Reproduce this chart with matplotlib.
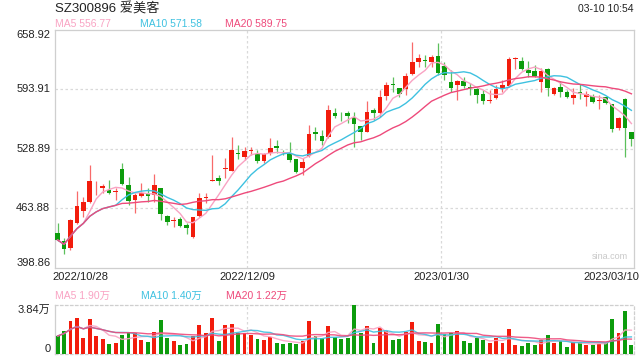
import matplotlib
matplotlib.use("Agg")
import matplotlib.pyplot as plt
import matplotlib.transforms as mtransforms
import numpy as np
import pandas as pd

plt.rcParams['font.family'] = ['Liberation Sans', 'Noto Sans CJK SC']

# ---------------- data ----------------
title = "SZ300896 爱美客"
timestamp = "03-10 10:54"

opens = [436.8, 428.7, 420.5, 447.7, 461.5, 471.0, 488.0, 486.0, 484.1, 481.9,
         506.7, 489.5, 473.2, 477.5, 479.4, 478.6, 485.9, 455.7, 449.9, 452.1,
         445.8, 433.1, 455.7, 475.7, 494.2, 496.9, 507.0, 505.2, 524.8, 520.5,
         526.4, 523.4, 516.1, 524.2, 532.2, 525.9, 524.8, 518.0, 508.5, 521.2,
         547.8, 543.1, 541.7, 568.5, 564.2, 567.9, 563.5, 554.0, 547.8, 571.5,
         568.5, 587.1, 599.9, 595.2, 594.1, 610.8, 623.6, 625.4, 623.6, 630.8,
         619.6, 602.4, 598.8, 603.2, 596.3, 594.4, 589.0, 581.3, 584.3, 594.1,
         597.7, 626.9, 625.0, 615.2, 614.1, 602.4, 616.0, 588.7, 596.3, 590.8,
         584.3, 590.8, 586.0, 586.8, 581.0, 585.2, 577.7, 552.2, 583.2, 547.8]
highs = [448.4, 431.3, 452.7, 483.3, 476.8, 511.4, 494.2, 490.3, 495.0, 485.9,
         513.9, 498.6, 480.5, 491.4, 485.9, 501.6, 486.3, 456.8, 454.9, 454.9,
         447.7, 454.9, 481.1, 481.1, 522.3, 500.5, 518.7, 542.3, 533.3, 530.7,
         530.7, 527.8, 524.2, 540.6, 538.7, 527.8, 536.9, 518.5, 518.7, 555.1,
         553.3, 549.6, 577.0, 573.4, 569.6, 570.7, 569.6, 554.5, 581.7, 573.4,
         593.4, 602.4, 607.9, 595.5, 611.6, 645.5, 632.7, 631.6, 631.6, 644.4,
         624.3, 615.2, 604.3, 607.9, 600.7, 597.0, 593.4, 593.4, 598.8, 604.3,
         629.7, 629.7, 629.7, 625.4, 620.7, 617.1, 617.7, 597.0, 603.5, 593.4,
         595.9, 599.9, 592.6, 589.0, 587.9, 585.4, 578.0, 564.2, 584.3, 548.0]
lows = [428.4, 413.8, 419.0, 446.9, 454.9, 469.5, 478.6, 480.5, 480.0, 473.2,
        489.5, 467.7, 458.6, 476.8, 471.3, 471.3, 451.3, 445.8, 443.3, 444.0,
        436.0, 431.3, 455.0, 469.5, 494.0, 489.5, 496.9, 505.0, 518.0, 516.9,
        522.3, 513.9, 513.9, 522.3, 524.2, 522.3, 515.0, 502.3, 500.5, 520.5,
        538.7, 533.3, 540.6, 562.4, 559.5, 557.0, 531.4, 538.7, 547.0, 560.6,
        564.2, 582.4, 591.5, 586.0, 587.9, 610.0, 618.8, 618.8, 618.2, 609.7,
        604.3, 591.5, 582.4, 595.2, 587.9, 578.8, 578.1, 578.8, 583.2, 591.5,
        597.0, 616.0, 615.2, 607.9, 607.9, 591.5, 586.8, 587.9, 585.4, 584.3,
        578.1, 583.2, 575.9, 579.5, 572.6, 578.1, 547.8, 549.6, 520.5, 532.2]
closes = [429.5, 419.9, 451.3, 466.6, 471.0, 494.2, 489.0, 488.5, 480.5, 482.7,
          490.6, 472.4, 478.6, 481.1, 477.5, 489.5, 457.9, 449.4, 450.5, 444.7,
          442.9, 454.3, 475.0, 476.4, 495.0, 494.2, 508.1, 527.8, 523.1, 526.7,
          526.7, 516.1, 523.4, 529.6, 530.0, 524.8, 516.9, 504.1, 515.0, 545.3,
          545.6, 537.9, 571.5, 564.9, 563.5, 565.3, 555.9, 547.8, 569.6, 568.5,
          585.4, 598.8, 599.1, 589.0, 608.7, 623.6, 628.0, 624.7, 629.7, 611.6,
          609.7, 595.2, 603.5, 598.0, 595.9, 587.9, 581.7, 582.1, 594.1, 598.8,
          627.2, 627.6, 616.3, 612.3, 608.7, 614.1, 595.2, 595.2, 590.8, 585.4,
          587.9, 588.7, 588.7, 580.6, 581.7, 579.4, 550.4, 562.4, 551.7, 539.5]
# volume in 万 shares
volumes = [1.41, 1.80, 2.59, 2.82, 1.25, 2.74, 1.41, 1.18, 0.78, 0.86,
           1.49, 1.70, 1.65, 1.10, 0.94, 1.72, 2.67, 1.25, 1.02, 0.71,
           0.78, 1.41, 2.27, 1.65, 2.82, 1.02, 2.27, 2.35, 1.65, 1.65,
           1.49, 1.18, 1.10, 1.33, 0.86, 0.78, 0.86, 0.78, 1.02, 2.59,
           1.41, 1.25, 2.20, 1.33, 1.18, 1.25, 3.84, 1.65, 2.20, 0.86,
           2.04, 1.80, 1.10, 1.18, 1.72, 2.51, 1.02, 0.94, 0.86, 2.35,
           1.57, 1.65, 1.80, 1.02, 0.86, 1.25, 1.10, 0.86, 1.25, 0.86,
           1.96, 0.71, 0.63, 0.86, 0.71, 1.10, 1.49, 0.86, 1.02, 0.55,
           0.94, 0.94, 0.71, 0.71, 0.78, 0.86, 2.74, 1.65, 3.37, 0.71]

date_labels = ["2022/10/28", "2022/12/09", "2023/01/30", "2023/03/10"]
date_label_idx = [0, 30, 60, 89]

price_ticks = [658.92, 593.91, 528.89, 463.88, 398.86]
vol_tick_labels = ["3.84万", "0"]
vol_tick_values = [3.84, 0.0]

ma_windows = [5, 10, 20]
ma_colors = ['#f9a3c3', '#3ec1e0', '#ee4a7b']
price_ma_text = ["MA5 556.77", "MA10 571.58", "MA20 589.75"]
vol_ma_text = ["MA5 1.90万", "MA10 1.40万", "MA20 1.22万"]

# ---------------- figure ----------------
W, H = 640, 360
fig = plt.figure(figsize=(W / 100, H / 100), dpi=100)
fig.patch.set_facecolor('white')


def rect(l, t, r, b):
    return [l / W, 1 - b / H, (r - l) / W, (b - t) / H]


ax = fig.add_axes(rect(55, 30, 634, 268))
axv = fig.add_axes(rect(55, 305, 634, 354))

n = len(closes)
x = np.arange(n)
o = np.array(opens); c = np.array(closes)
h = np.array(highs); l = np.array(lows)
up = c >= o
RED, GREEN = '#f21c0c', '#0c9c0c'
RED_W, GREEN_W = '#f86a6a', '#5cc05c'
body_col = np.where(up, RED, GREEN)
wick_col = np.where(up, RED_W, GREEN_W)

GRID = '#d9d9d9'
FRAME = '#cfcfcf'
TXT = '#222222'

# grid
grid_x = [i - 0.55 for i in date_label_idx[1:3]]
for a in (ax, axv):
    for gx in grid_x:
        a.axvline(gx, color=GRID, lw=0.9, ls=(0, (2, 2)), zorder=0)
for py in price_ticks[1:4]:
    ax.axhline(py, color=GRID, lw=0.9, ls=(0, (2, 2)), zorder=0)

# candles
ax.vlines(x, l, h, colors=wick_col, lw=0.9, zorder=2)
body_h = np.maximum(np.abs(c - o), 0.9)
body_b = np.minimum(o, c)
ax.bar(x, body_h, bottom=body_b, width=0.72, color=body_col, linewidth=0, zorder=3)

# moving averages
cs = pd.Series(closes)
vs = pd.Series(volumes)
for w, col in zip(ma_windows, ma_colors):
    ax.plot(x, cs.rolling(w, min_periods=1).mean(), color=col, lw=1.0, zorder=4)
    axv.plot(x, vs.rolling(w, min_periods=1).mean(), color=col, lw=1.0, zorder=4, alpha=0.9)

ax.set_xlim(-0.4, n - 0.6)
ax.set_ylim(price_ticks[-1], price_ticks[0])
ax.set_xticks([]); ax.set_yticks([])
for s in ax.spines.values():
    s.set_color(FRAME); s.set_linewidth(0.9)

# price tick labels
tr = mtransforms.blended_transform_factory(ax.transAxes, ax.transData)
for i, pv in enumerate(price_ticks):
    va = 'top' if i == 0 else ('bottom' if i == len(price_ticks) - 1 else 'center')
    ax.text(-0.008, pv, f"{pv:.2f}", transform=tr, ha='right', va=va,
            fontsize=8, color=TXT)

# watermark
ax.text(0.99, 0.05, "sina.com", transform=ax.transAxes, ha='right', va='center',
        fontsize=6.5, color='#c8c8c8')

# volume bars
axv.bar(x, volumes, width=0.6, color=body_col, linewidth=0, zorder=3)
axv.set_xlim(-0.4, n - 0.6)
axv.set_ylim(0, vol_tick_values[0])
axv.set_xticks([]); axv.set_yticks([])
for k, s in axv.spines.items():
    s.set_color(FRAME); s.set_linewidth(0.9)
    if k != 'left':
        s.set_linestyle((0, (2, 2)))
trv = mtransforms.blended_transform_factory(axv.transAxes, axv.transData)
axv.text(-0.008, vol_tick_values[0], vol_tick_labels[0], transform=trv,
         ha='right', va='top', fontsize=8, color=TXT)
axv.text(-0.008, vol_tick_values[1], vol_tick_labels[1], transform=trv,
         ha='right', va='bottom', fontsize=8, color=TXT)

# date labels
ydate = 1 - 277 / H
trd = mtransforms.blended_transform_factory(ax.transData, fig.transFigure)
fig.text(52 / W, ydate, date_labels[0], ha='left', va='center', fontsize=8, color=TXT)
for lab, gx in zip(date_labels[1:3], grid_x):
    fig.text(0, 0, "")  # placeholder no-op
    ax.text(gx, ydate, lab, transform=trd, ha='center', va='center',
            fontsize=8, color=TXT, clip_on=False)
fig.text(639.5 / W, ydate, date_labels[3], ha='right', va='center', fontsize=8, color=TXT)

# header
fig.text(55 / W, 1 - 8 / H, title, ha='left', va='center', fontsize=9.5, color=TXT)
fig.text(633 / W, 1 - 9.5 / H, timestamp, ha='right', va='center', fontsize=7.5, color=TXT)
legend_x = [55, 140, 225]
for txt, col, lx in zip(price_ma_text, ma_colors, legend_x):
    fig.text(lx / W, 1 - 24 / H, txt, ha='left', va='center', fontsize=7.5, color=col)
for txt, col, lx in zip(vol_ma_text, ma_colors, [55, 141, 226]):
    fig.text(lx / W, 1 - 296 / H, txt, ha='left', va='center', fontsize=7.5, color=col)

fig.savefig("out.png", dpi=100, facecolor='white')
